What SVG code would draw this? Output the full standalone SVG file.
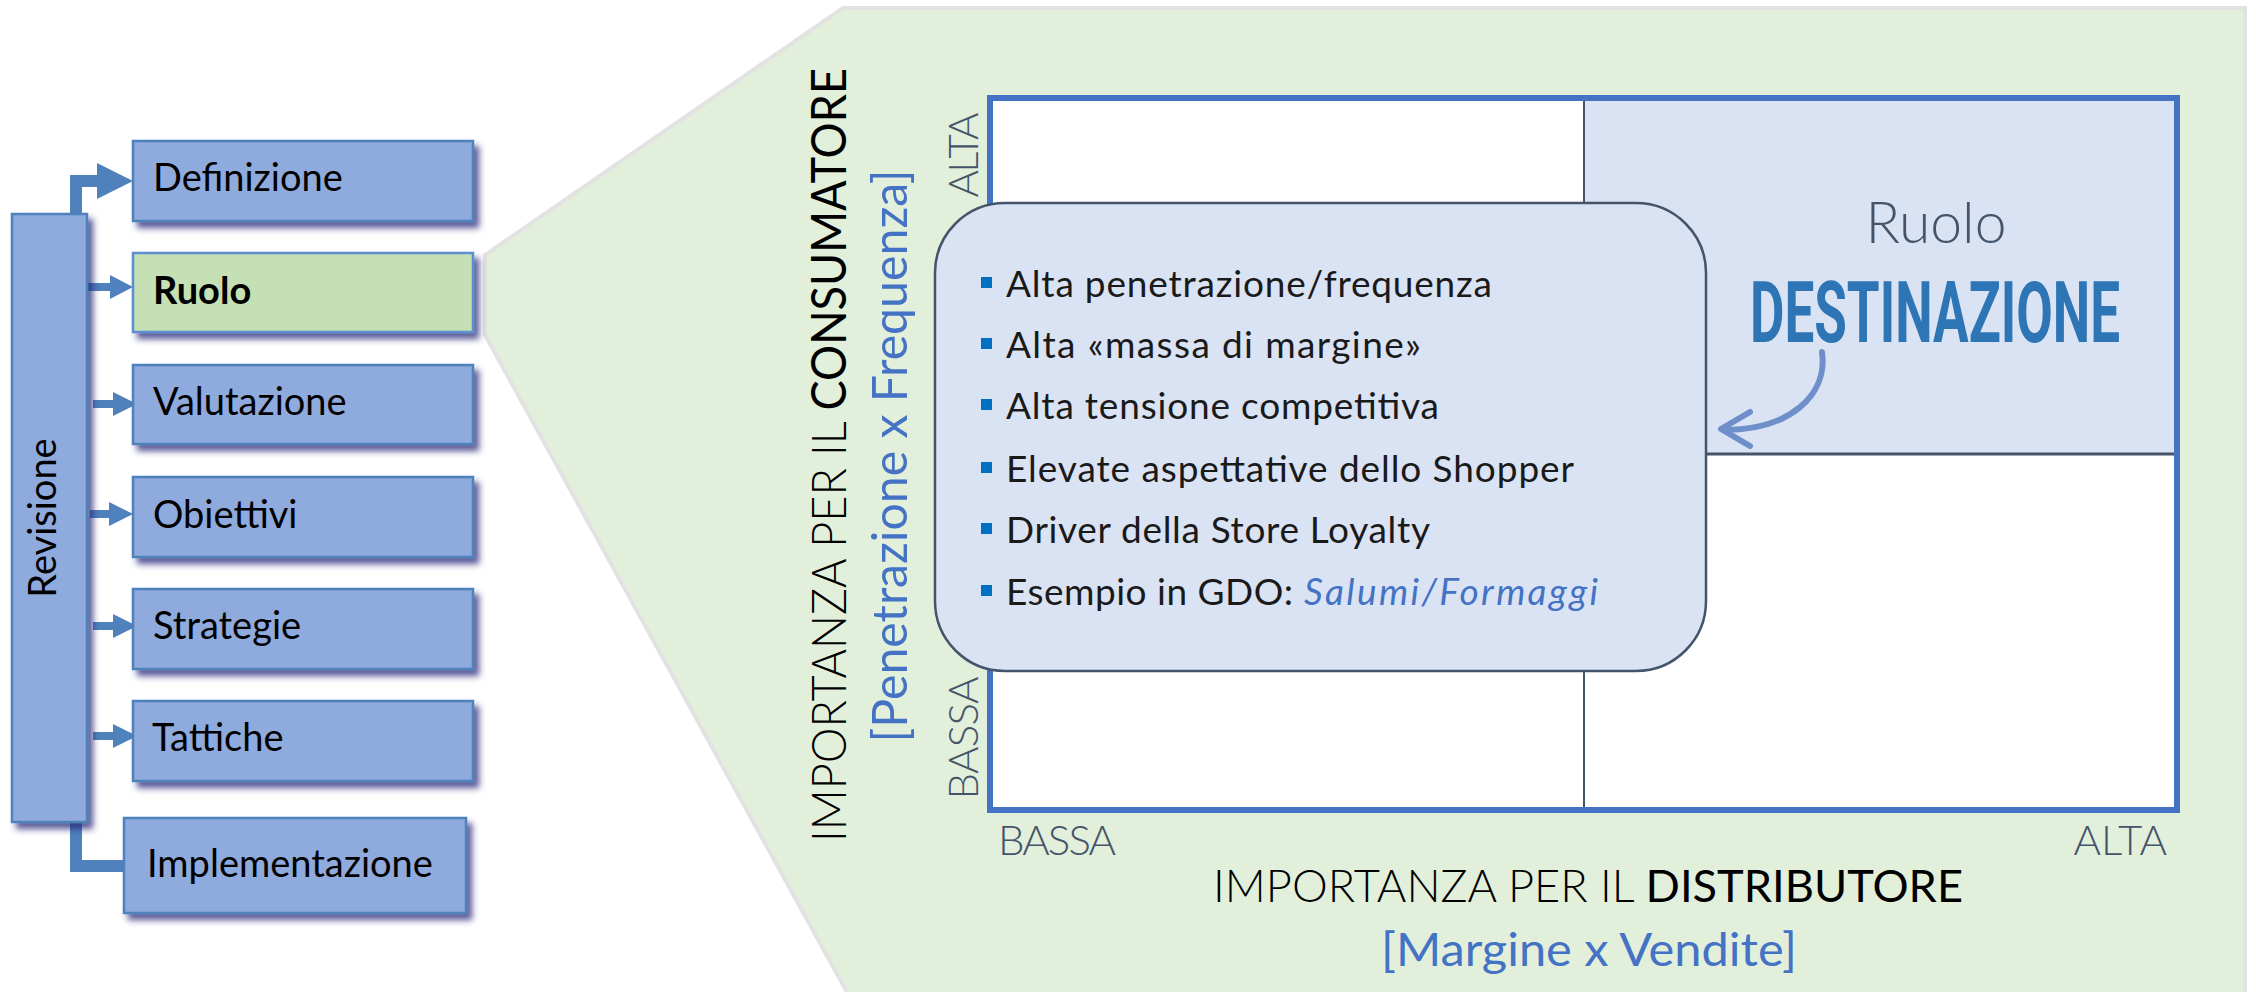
<svg xmlns="http://www.w3.org/2000/svg" width="2256" height="992" viewBox="0 0 2256 992">
<defs>
<filter id="sh" x="-20%" y="-20%" width="150%" height="160%">
<feDropShadow dx="5" dy="6" stdDeviation="3" flood-color="#25257a" flood-opacity="0.75"/>
</filter>
<style>
.box{fill:#8faadc;stroke:#4f81bd;stroke-width:2.5}
.boxg{fill:#c5e0b4;stroke:#5b8fd0;stroke-width:2.5}
.lbl{font-family:Lato,"Open Sans",sans-serif;font-size:38px;fill:#000}
.shaft{fill:none;stroke:#4f81bd}
.head{fill:#4f81bd}
.bul{font-family:Lato,"Open Sans",sans-serif;font-size:37px;fill:#1a1a1a}
.bul.hl{fill:#4472c4;font-style:italic}
.sq{fill:#0070c0}
.ax{font-family:Lato,"Open Sans",sans-serif;font-weight:300;font-size:42px;fill:#44546a}
.big{font-family:Lato,"Open Sans",sans-serif;font-size:48px;fill:#000}
.big.blue{fill:#4472c4}
</style>
</defs>
<rect width="2256" height="992" fill="#ffffff"/>

<g id="panel">
<polygon points="843,8 2245,8 2245,994 848,994 485,335 485,255" fill="#e2efda" stroke="#e2e2e2" stroke-width="4"/>
</g>

<g id="connectors">
<path class="shaft" d="M76,214 V181 H100" stroke-width="12"/>
<polygon class="head" points="97,163 133,181 97,199"/>
<path class="shaft" d="M87,287 H111" stroke-width="8"/>
<polygon class="head" points="110,275 133,287 110,299"/>
<path class="shaft" d="M93,404 H114" stroke-width="8"/>
<polygon class="head" points="113,392 137,404 113,416"/>
<path class="shaft" d="M90,514 H110" stroke-width="8"/>
<polygon class="head" points="109,502 133,514 109,526"/>
<path class="shaft" d="M93,626 H114" stroke-width="8"/>
<polygon class="head" points="113,614 137,626 113,638"/>
<path class="shaft" d="M93,736 H114" stroke-width="8"/>
<polygon class="head" points="113,724 137,736 113,748"/>
<path class="shaft" d="M76,822 V866 H126" stroke-width="12"/>
</g>

<g id="revisione">
<rect class="box" x="12" y="214" width="75" height="608" filter="url(#sh)"/>
<text class="lbl" transform="translate(56,518) rotate(-90)" text-anchor="middle">Revisione</text>
</g>
<g id="definizione">
<rect class="box" x="133" y="141" width="340" height="80" filter="url(#sh)"/>
<text class="lbl" x="153" y="191">Definizione</text>
</g>
<g id="ruolo">
<rect class="boxg" x="133" y="253" width="340" height="79" filter="url(#sh)"/>
<text class="lbl" x="153" y="304" font-weight="700">Ruolo</text>
</g>
<g id="valutazione">
<rect class="box" x="133" y="365" width="340" height="79" filter="url(#sh)"/>
<text class="lbl" x="153" y="415">Valutazione</text>
</g>
<g id="obiettivi">
<rect class="box" x="133" y="477" width="340" height="80" filter="url(#sh)"/>
<text class="lbl" x="153" y="528">Obiettivi</text>
</g>
<g id="strategie">
<rect class="box" x="133" y="589" width="340" height="80" filter="url(#sh)"/>
<text class="lbl" x="153" y="639">Strategie</text>
</g>
<g id="tattiche">
<rect class="box" x="133" y="701" width="340" height="80" filter="url(#sh)"/>
<text class="lbl" x="152" y="751">Tattiche</text>
</g>
<g id="implementazione">
<rect class="box" x="124" y="818" width="342" height="95" filter="url(#sh)"/>
<text class="lbl" x="147" y="877">Implementazione</text>
</g>

<g id="matrix">
<rect x="990" y="98" width="1187" height="712" fill="#ffffff"/>
<rect x="1584" y="98" width="593" height="356" fill="#dae3f3"/>
<line x1="1584" y1="98" x2="1584" y2="810" stroke="#44546a" stroke-width="2"/>
<line x1="1584" y1="454" x2="2177" y2="454" stroke="#44546a" stroke-width="3"/>
<rect x="990" y="98" width="1187" height="712" fill="none" stroke="#4472c4" stroke-width="6"/>
</g>

<g id="axis-labels">
<text class="ax" transform="translate(978,155) rotate(-90)" text-anchor="middle" textLength="85">ALTA</text>
<text class="ax" transform="translate(978,738) rotate(-90)" text-anchor="middle" textLength="123">BASSA</text>
<text class="ax" x="998" y="855" textLength="118">BASSA</text>
<text class="ax" x="2167" y="855" text-anchor="end">ALTA</text>
<text class="big" transform="translate(846,455) rotate(-90)" text-anchor="middle" textLength="774" lengthAdjust="spacingAndGlyphs"><tspan font-weight="300">IMPORTANZA PER IL </tspan><tspan>CONSUMATORE</tspan></text>
<text class="big blue" transform="translate(907,456) rotate(-90)" text-anchor="middle" textLength="573" lengthAdjust="spacingAndGlyphs">[Penetrazione x Frequenza]</text>
<text x="1588" y="902" text-anchor="middle" font-family="Lato, 'Open Sans', sans-serif" font-size="45" fill="#000" textLength="750" lengthAdjust="spacingAndGlyphs"><tspan font-weight="300">IMPORTANZA PER IL </tspan><tspan>DISTRIBUTORE</tspan></text>
<text x="1589" y="966" text-anchor="middle" font-family="Lato, 'Open Sans', sans-serif" font-size="46" fill="#4472c4" textLength="416" lengthAdjust="spacingAndGlyphs">[Margine x Vendite]</text>
</g>

<g id="destinazione">
<text x="1936" y="243" text-anchor="middle" font-family="Lato, 'Open Sans', sans-serif" font-weight="300" font-size="57" fill="#44546a">Ruolo</text>
<text x="1750" y="342" font-family="Roboto, 'Liberation Sans', sans-serif" font-weight="700" font-size="86" fill="#2e75b6" textLength="370" lengthAdjust="spacingAndGlyphs">DESTINAZIONE</text>
</g>

<g id="features">
<rect x="935" y="203" width="771" height="468" rx="70" ry="70" fill="#dae3f3" stroke="#44546a" stroke-width="2.5"/>
<rect class="sq" x="981" y="277" width="11" height="11"/>
<text class="bul" x="1006" y="297" textLength="486">Alta penetrazione/frequenza</text>
<rect class="sq" x="981" y="338" width="11" height="11"/>
<text class="bul" x="1006" y="358" textLength="415">Alta «massa di margine»</text>
<rect class="sq" x="981" y="399" width="11" height="11"/>
<text class="bul" x="1006" y="419" textLength="433">Alta tensione competitiva</text>
<rect class="sq" x="981" y="462" width="11" height="11"/>
<text class="bul" x="1006" y="482" textLength="568">Elevate aspettative dello Shopper</text>
<rect class="sq" x="981" y="523" width="11" height="11"/>
<text class="bul" x="1006" y="543" textLength="424">Driver della Store Loyalty</text>
<rect class="sq" x="981" y="585" width="11" height="11"/>
<text class="bul" x="1006" y="605" textLength="287">Esempio in GDO:</text>
<text class="bul hl" x="1304" y="605" textLength="294">Salumi/Formaggi</text>
</g>

<g id="pointer">
<path d="M1822,352 C1828,395 1790,430 1724,430" fill="none" stroke="#6f8fca" stroke-width="6" stroke-linecap="round"/>
<path d="M1750,412 L1721,429 L1750,446" fill="none" stroke="#6f8fca" stroke-width="6" stroke-linecap="round" stroke-linejoin="round"/>
</g>
</svg>
